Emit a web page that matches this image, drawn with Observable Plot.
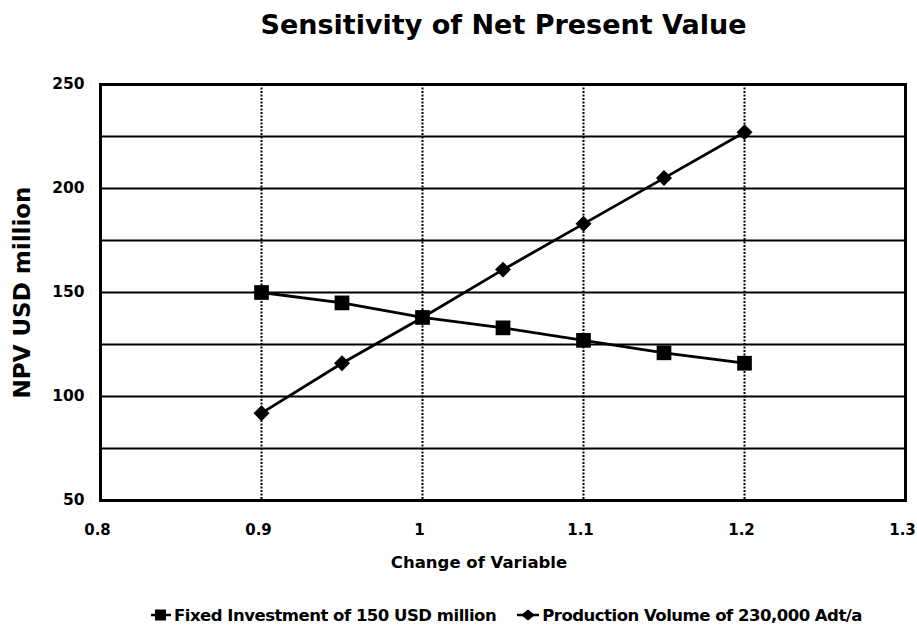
<!DOCTYPE html>
<html>
<head>
<meta charset="utf-8">
<script src="https://cdn.jsdelivr.net/npm/d3@7"></script>
<script src="https://cdn.jsdelivr.net/npm/@observablehq/plot@0.6"></script>
<style>
  body { margin: 0; background: #fff; font-family: "DejaVu Sans", sans-serif; }
  #title { height: 60px; width: 917px; text-align: center; font-weight: bold; font-size: 27px; line-height: 50px; padding-left: 90px; box-sizing: border-box; color: #000; }
  #legend { width: 917px; height: 42px; display: flex; justify-content: center; align-items: center; font-weight: bold; font-size: 16.5px; color: #000; gap: 20px; padding-left: 95px; padding-top: 8px; box-sizing: border-box; letter-spacing: -0.5px; }
  #legend span { display: inline-flex; align-items: center; gap: 2px; }
  svg { display: block; }
</style>
</head>
<body>
<div id="title">Sensitivity of Net Present Value</div>
<div id="chart"></div>
<div id="legend"></div>
<script>
const changes = [0.9, 0.95, 1.0, 1.05, 1.1, 1.15, 1.2];
const fixedInvestment = [150, 145, 138, 133, 127, 121, 116];
const productionVolume = [92, 116, 138, 161, 183, 205, 227];
const seriesNames = ["Fixed Investment of 150 USD million", "Production Volume of 230,000 Adt/a"];
const xTicks = [0.8, 0.9, 1.0, 1.1, 1.2, 1.3];
const yTicks = [50, 100, 150, 200, 250];
const yGrid = [75, 100, 125, 150, 175, 200, 225];
const xGrid = [0.9, 1.0, 1.1, 1.2];

const fixedData = changes.map((c, i) => ({x: c, y: fixedInvestment[i]}));
const prodData = changes.map((c, i) => ({x: c, y: productionVolume[i]}));
const fmtX = d => d === 1 ? "1" : d.toFixed(1);

const chart = Plot.plot({
  width: 917,
  height: 530,
  marginTop: 24,
  marginBottom: 90,
  marginLeft: 100,
  marginRight: 12,
  style: {fontFamily: "'DejaVu Sans', sans-serif", fontWeight: "bold", fontSize: "15px", color: "#000", background: "#fff"},
  x: {domain: [0.8, 1.3], label: null},
  y: {domain: [50, 250], label: null},
  marks: [
    Plot.ruleY(yGrid, {stroke: "#000", strokeWidth: 2}),
    Plot.ruleX(xGrid, {stroke: "#000", strokeWidth: 2, strokeDasharray: "2,1.5"}),
    Plot.frame({stroke: "#000", strokeWidth: 3}),
    Plot.axisX({ticks: xTicks, tickSize: 0, tickPadding: 24, dx: -3, fontSize: 15, fontWeight: "bold", tickFormat: fmtX}),
    Plot.axisY({ticks: yTicks, tickSize: 0, tickPadding: 16, fontSize: 15.5, fontWeight: "bold"}),
    Plot.line(fixedData, {x: "x", y: "y", stroke: "#000", strokeWidth: 2.8}),
    Plot.line(prodData, {x: "x", y: "y", stroke: "#000", strokeWidth: 2.8}),
    Plot.dot(fixedData, {x: "x", y: "y", symbol: "square", r: 8.3, fill: "#000"}),
    Plot.dot(prodData, {x: "x", y: "y", symbol: "diamond2", r: 7.2, fill: "#000"}),
    Plot.text(["Change of Variable"], {frameAnchor: "bottom", dy: 67, dx: -24, fontSize: 16.5, fontWeight: "bold", letterSpacing: -0.4}),
    Plot.text(["NPV USD million"], {frameAnchor: "left", textAnchor: "middle", dx: -78, rotate: -90, fontSize: 23, fontWeight: "bold"})
  ]
});
document.getElementById("chart").appendChild(chart);

const legend = document.getElementById("legend");
const swatches = [
  `<svg width="22" height="14"><line x1="1" y1="7" x2="21" y2="7" stroke="#000" stroke-width="2.5"/><rect x="5" y="1.5" width="11" height="11" fill="#000"/></svg>`,
  `<svg width="24" height="14"><line x1="1" y1="7" x2="23" y2="7" stroke="#000" stroke-width="2.5"/><path d="M12 1.5 L19 7 L12 12.5 L5 7 Z" fill="#000"/></svg>`
];
seriesNames.forEach((name, i) => {
  const s = document.createElement("span");
  s.innerHTML = swatches[i] + name;
  legend.appendChild(s);
});
</script>
</body>
</html>
